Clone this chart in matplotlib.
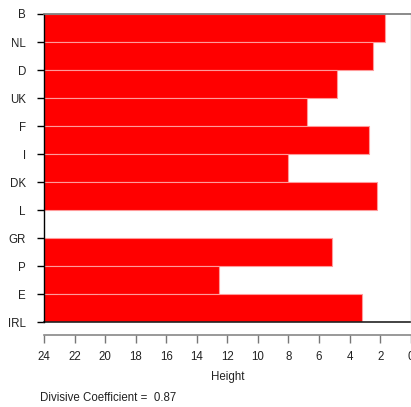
import matplotlib
matplotlib.use("Agg")
import matplotlib.pyplot as plt
import numpy as np

labels = ["B", "NL", "D", "UK", "F", "I", "DK", "L", "GR", "P", "E", "IRL"]
# merge heights between consecutive observations (banner order)
heights = [1.68, 2.45, 4.85, 6.77, 2.75, 8.06, 2.21, 24.0, 5.13, 12.55, 3.17]
xticks = [24, 22, 20, 18, 16, 14, 12, 10, 8, 6, 4, 2, 0]
max_height = 24
div_coef = 0.87

W, H = 411, 407
fig = plt.figure(figsize=(W / 100, H / 100), dpi=100)
left, right, top, bottom = 44, 410.7, 14, 322.3
ax = fig.add_axes([left / W, 1 - bottom / H, (right - left) / W, (bottom - top) / H])

for i, h in enumerate(heights):
    width = max_height - h
    if width > 0:
        ax.barh(i + 0.5, width, height=1.0, left=h, color="#ff0000",
                edgecolor="#ff9a9a", linewidth=0.8, align="center")

ax.set_xlim(max_height, 0)
ax.set_ylim(len(labels) - 1, 0)

fs = 8.3
tc = "#222222"
ax.set_yticks(range(len(labels)))
ax.set_yticklabels(labels, fontsize=fs, family="Liberation Sans", color=tc)
ax.tick_params(axis="y", length=5, width=1, pad=8, color="black")

ax.spines["top"].set_color("#777777")
ax.spines["top"].set_linewidth(1.2)
ax.spines["right"].set_color("#bbbbbb")
ax.spines["right"].set_linewidth(1)
ax.spines["left"].set_color("black")
ax.spines["left"].set_linewidth(1)
ax.spines["bottom"].set_position(("outward", 9.5))
ax.spines["bottom"].set_color("#888888")
ax.spines["bottom"].set_linewidth(1.2)
# box bottom line
ax.plot([max_height, 0], [len(labels) - 1, len(labels) - 1], color="#222222",
        linewidth=1.2, clip_on=False)

ax.set_xticks(xticks)
ax.set_xticklabels([str(t) for t in xticks], fontsize=fs, family="Liberation Sans", color=tc)
ax.tick_params(axis="x", length=5.5, width=1, pad=5.5, color="#777777")
ax.set_xlabel("Height", fontsize=fs, family="Liberation Sans", labelpad=6, color=tc)

fig.text(40 / W, 1 - 398 / H, "Divisive Coefficient =  %.2f" % div_coef,
         fontsize=fs, family="Liberation Sans", va="center", ha="left", color=tc)

fig.savefig("out.png", dpi=100)
